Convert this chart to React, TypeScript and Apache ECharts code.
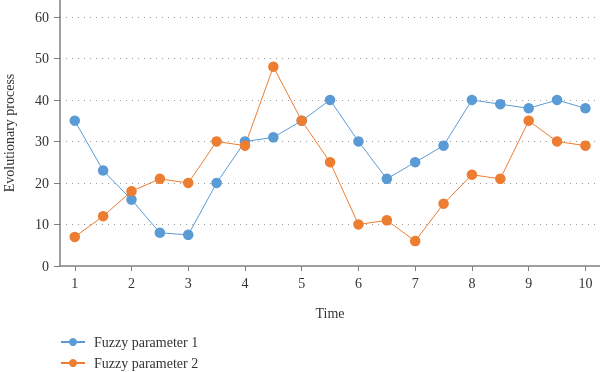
import React, { useEffect, useRef } from "react";
import * as echarts from "echarts";

const times = [1, 1.5, 2, 2.5, 3, 3.5, 4, 4.5, 5, 5.5, 6, 6.5, 7, 7.5, 8, 8.5, 9, 9.5, 10];
const param1 = [35, 23, 16, 8, 7.5, 20, 30, 31, 35, 40, 30, 21, 25, 29, 40, 39, 38, 40, 38];
const param2 = [7, 12, 18, 21, 20, 30, 29, 48, 35, 25, 10, 11, 6, 15, 22, 21, 35, 30, 29];
const seriesNames = ["Fuzzy parameter 1", "Fuzzy parameter 2"];
const colors = ["#5B9BD5", "#ED7D31"];
const xTicks = [1, 2, 3, 4, 5, 6, 7, 8, 9, 10];
const yTicks = [0, 10, 20, 30, 40, 50, 60];
const xTitle = "Time";
const yTitle = "Evolutionary process";

const FONT = "'Liberation Serif', 'DejaVu Serif', serif";

export default function App() {
  const ref = useRef<HTMLDivElement>(null);
  useEffect(() => {
    if (!ref.current) return;
    const chart = echarts.init(ref.current, null, { renderer: "svg" });
    const mk = (vals: number[]) => times.map((t, i) => [t, vals[i]]);
    const legendBase = {
      orient: "vertical",
      left: 60,
      padding: 0,
      itemWidth: 24,
      itemHeight: 10,
      itemGap: 0,
      textStyle: { fontFamily: FONT, fontSize: 14, color: "#333", padding: [0, 0, 0, 4] },
    };
    chart.setOption({
      animation: false,
      textStyle: { fontFamily: FONT },
      grid: { left: 60, right: 0, top: 17, bottom: 106, outerBoundsMode: "none", containLabel: false },
      graphic: [
        {
          type: "line",
          shape: { x1: 60, y1: 0, x2: 60, y2: 17 },
          style: { stroke: "#7f7f7f", lineWidth: 1.5 },
        },
        {
          type: "text",
          x: 9,
          y: 133,
          rotation: Math.PI / 2,
          style: {
            text: yTitle,
            align: "center",
            verticalAlign: "middle",
            fontFamily: FONT,
            fontSize: 14,
            fill: "#333",
          },
        },
      ],
      legend: [
        { ...legendBase, top: 335, data: [seriesNames[0]] },
        { ...legendBase, top: 356, data: [seriesNames[1]] },
      ],
      xAxis: {
        type: "value",
        min: 0.74,
        max: 10.257,
        name: xTitle,
        nameLocation: "middle",
        nameGap: 40,
        nameTextStyle: { fontFamily: FONT, fontSize: 14, color: "#333" },
        axisLine: { lineStyle: { color: "#7f7f7f", width: 1.5 } },
        axisTick: { show: true, length: 5, customValues: xTicks, lineStyle: { color: "#7f7f7f" } },
        axisLabel: {
          fontFamily: FONT,
          fontSize: 14,
          color: "#333",
          margin: 10,
          customValues: xTicks,
        },
        splitLine: { show: false },
      },
      yAxis: {
        type: "value",
        min: yTicks[0],
        max: yTicks[yTicks.length - 1],
        interval: 10,
        axisLine: { show: true, lineStyle: { color: "#7f7f7f", width: 1.5 } },
        axisTick: { show: true, length: 6, lineStyle: { color: "#7f7f7f" } },
        axisLabel: { fontFamily: FONT, fontSize: 14, color: "#333", margin: 11 },
        splitLine: {
          show: true,
          showMinLine: false,
          lineStyle: { color: "#999", type: [1, 5], width: 1 },
        },
      },
      series: [
        {
          name: seriesNames[0],
          type: "line",
          data: mk(param1),
          symbol: "circle",
          symbolSize: 10.5,
          itemStyle: { color: colors[0] },
          lineStyle: { color: colors[0], width: 1 },
        },
        {
          name: seriesNames[1],
          type: "line",
          data: mk(param2),
          symbol: "circle",
          symbolSize: 10.5,
          itemStyle: { color: colors[1] },
          lineStyle: { color: colors[1], width: 1 },
        },
      ],
    });
    return () => chart.dispose();
  }, []);
  return <div ref={ref} style={{ width: 600, height: 372, position: "fixed", left: 0, top: 0 }} />;
}
